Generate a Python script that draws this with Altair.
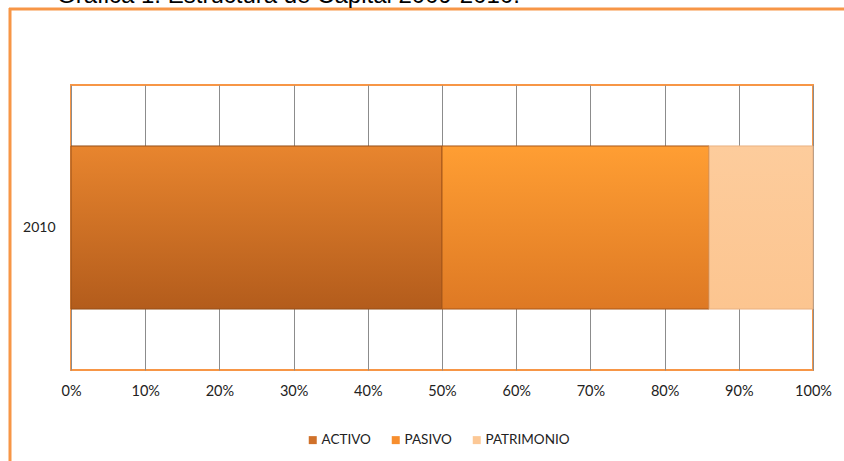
import altair as alt
import pandas as pd

# ---- data ----
anios = ["2010"]
categorias = ["ACTIVO", "PASIVO", "PATRIMONIO"]
valores = [50, 36, 14]
orden = [1, 2, 3]
ticks_x = [0, 0.1, 0.2, 0.3, 0.4, 0.5, 0.6, 0.7, 0.8, 0.9, 1.0]
titulo = "Gráfica 1. Estructura de Capital 2009-2010."

colores_solidos = ["#D0712A", "#F78E2E", "#FCC896"]
grad_top = {"ACTIVO": "#E8852E", "PASIVO": "#FF9E33", "PATRIMONIO": "#FDCC9C"}
grad_bot = {"ACTIVO": "#B35C1C", "PASIVO": "#DE7924", "PATRIMONIO": "#FCC590"}
stroke_seg = {"ACTIVO": "#95501A", "PASIVO": "#A8581A", "PATRIMONIO": "#E9B182"}

ORANGE = "#F79646"

df = pd.DataFrame({
    "anio": anios * len(categorias),
    "categoria": categorias,
    "valor": valores,
    "orden": orden,
})

W, H = 742, 285
PAD_L, PAD_T = 71, 85

base = alt.Chart(df).transform_stack(
    stack="valor",
    groupby=["anio"],
    as_=["x0", "x1"],
    sort=[alt.SortField("orden", order="ascending")],
    offset="normalize",
)

y_enc = alt.Y(
    "anio:N",
    title=None,
    scale=alt.Scale(paddingInner=0, paddingOuter=0.374),
    axis=alt.Axis(labelAngle=0, ticks=False, domain=False, labelPadding=16,
                  labelFontSize=14, labelFont="Lato", labelColor="#222222",
                  grid=False),
)
x_enc = alt.X(
    "x0:Q",
    title=None,
    scale=alt.Scale(domain=[0, 1], nice=False),
    axis=alt.Axis(format="%", values=ticks_x, ticks=False, domain=False,
                  labelPadding=14, labelFontSize=14.5, labelFont="Lato",
                  labelColor="#222222", grid=True, gridColor="#8C8C8C",
                  gridWidth=1, labelFlush=False),
)

solid = base.mark_bar().encode(
    x=x_enc,
    x2="x1:Q",
    y=y_enc,
    color=alt.Color(
        "categoria:N",
        scale=alt.Scale(domain=categorias, range=colores_solidos),
        legend=alt.Legend(
            title=None, orient="none", direction="horizontal",
            legendX=235, legendY=348, symbolType="square", symbolSize=64,
            labelFont="Lato", labelFontSize=13.5, labelColor="#222222",
            columnPadding=18, labelOffset=2, symbolStrokeWidth=0,
        ),
    ),
)

layers = [solid]
for c in categorias:
    g = alt.Gradient(
        gradient="linear",
        stops=[
            alt.GradientStop(color=grad_top[c], offset=0),
            alt.GradientStop(color=grad_bot[c], offset=1),
        ],
        x1=0, x2=0, y1=0, y2=1,
    )
    layers.append(
        base.transform_filter(alt.datum.categoria == c)
        .mark_bar(fill=g, stroke=stroke_seg[c], strokeWidth=1)
        .encode(x="x0:Q", x2="x1:Q", y="anio:N")
    )

frame_df = pd.DataFrame({"k": [0]})
left_rule = alt.Chart(frame_df).mark_rule(color=ORANGE, strokeWidth=3).encode(
    x=alt.value(10 - PAD_L), y=alt.value(8 - PAD_T), y2=alt.value(461 - PAD_T + 5)
)
top_rule = alt.Chart(frame_df).mark_rule(color=ORANGE, strokeWidth=3).encode(
    x=alt.value(9 - PAD_L), x2=alt.value(844 - PAD_L + 5), y=alt.value(9 - PAD_T)
)
title_txt = alt.Chart(frame_df).mark_text(
    align="left", baseline="alphabetic", font="Liberation Sans", fontSize=24,
    color="#000000",
).encode(
    x=alt.value(57 - PAD_L), y=alt.value(3 - PAD_T), text=alt.value(titulo)
)

chart = alt.layer(*layers, left_rule, top_rule, title_txt).properties(
    width=W,
    height=H,
    autosize=alt.AutoSizeParams(type="none"),
    padding={"left": PAD_L, "top": PAD_T, "right": 844 - PAD_L - W, "bottom": 461 - PAD_T - H},
    background="white",
).configure_view(stroke=ORANGE, strokeWidth=2)

chart.save("out.html", embed_options={"renderer": "svg", "actions": False})
